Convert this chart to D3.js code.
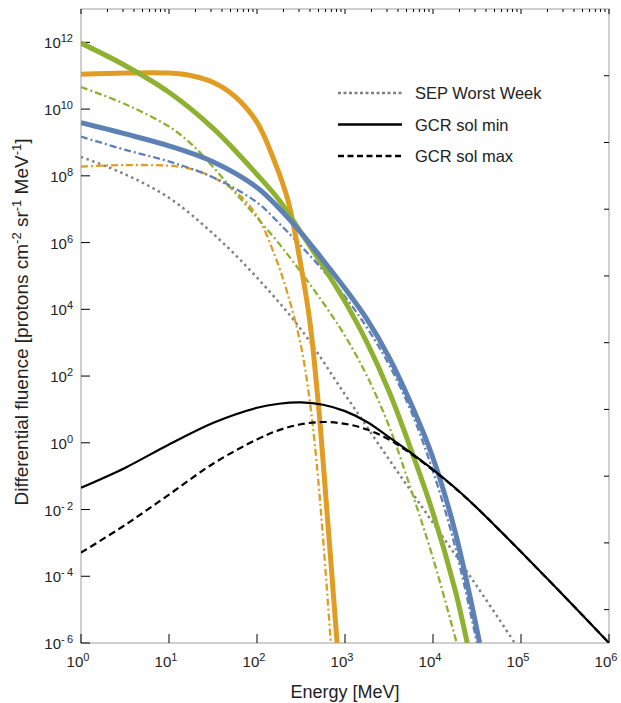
<!DOCTYPE html>
<html lang="en">
  <head>
    <meta charset="UTF-8" />
    <title>Differential fluence</title>
    <script src="https://d3js.org/d3.v7.min.js"></script>
    <style>
      body { margin: 0; background: #fff; }
      text { font-family: 'Liberation Sans', Arial, sans-serif; fill: #222; }
    </style>
  </head>
  <body>
    <svg width="621" height="703"></svg>
    <script>
      // energies in MeV, fluences in protons cm^-2 sr^-1 MeV^-1
      var orangeE = [1, 3.2, 10, 18, 32, 56, 100, 160, 224, 316, 400, 500, 630, 813]
      var orangeF = [1.1e11, 1.2e11, 1.2e11, 1.0e11, 6.3e10, 2.4e10, 4.0e9, 2.5e8, 1.9e7, 2.0e5, 4.0e3, 12.6, 6.3e-3, 1e-6]

      var orangeDashE = [1, 3.2, 10, 18, 32, 56, 100, 160, 224, 316, 400, 500, 690]
      var orangeDashF = [1.9e8, 2.1e8, 2.0e8, 1.6e8, 8.9e7, 3.5e7, 6.3e6, 4.0e5, 2.8e4, 800, 16, 0.063, 1e-6]

      var greenE = [1, 3.2, 10, 32, 100, 178, 316, 562, 1000, 1780, 3160, 5620, 1e4, 1.78e4, 2.45e4]
      var greenF = [9.5e11, 2.0e11, 3.2e10, 2.6e9, 1.1e8, 1.9e7, 2.0e6, 2.0e5, 1.7e4, 1.0e3, 35, 0.63, 7.9e-3, 4.0e-5, 1e-6]

      var greenDashE = [1, 3.2, 10, 18, 32, 56, 100, 178, 316, 562, 1000, 1780, 3160, 5620, 1e4, 1.86e4]
      var greenDashF = [4.6e10, 1.4e10, 3.0e9, 8.9e8, 1.8e8, 3.2e7, 5.6e6, 9.3e5, 1.3e5, 1.6e4, 1.6e3, 100, 3.2, 0.04, 3.5e-4, 1e-6]

      var blueE = [1, 3.2, 10, 32, 100, 178, 316, 562, 1000, 1780, 3160, 5620, 1e4, 1.78e4, 3.39e4]
      var blueF = [3.9e9, 1.8e9, 7.9e8, 2.6e8, 4.5e7, 1.07e7, 2.0e6, 3.0e5, 4.2e4, 5.0e3, 370, 15, 0.35, 2.2e-3, 1e-6]

      var blueDashE = [1, 3.2, 10, 32, 100, 178, 316, 562, 1000, 1780, 3160, 5620, 1e4, 1.78e4, 3.16e4]
      var blueDashF = [1.5e9, 6.0e8, 2.7e8, 8.9e7, 1.6e7, 3.8e6, 7.9e5, 1.5e5, 2.4e4, 2.8e3, 220, 8.9, 0.14, 7.9e-4, 1e-6]

      var sepE = [1, 3.2, 10, 32, 100, 316, 1000, 3160, 1e4, 3.16e4, 8.5e4]
      var sepF = [3.7e8, 1.1e8, 2.2e7, 1.8e6, 8.9e4, 2.5e3, 28, 0.32, 4.0e-3, 5.0e-5, 1e-6]

      var gcrE = [1, 3.2, 10, 32, 100, 178, 316, 562, 1000, 1780, 3160, 5620, 1e4, 1.78e4, 3.16e4, 5.62e4, 1e5, 3.16e5, 1e6]
      var gcrMinF = [0.045, 0.18, 0.89, 4.0, 11.2, 14.8, 16.2, 13.8, 8.9, 4.2, 1.48, 0.5, 0.158, 0.045, 0.0112, 2.5e-3, 5.4e-4, 2.4e-5, 1e-6]
      var gcrMaxF = [5.1e-4, 3.5e-3, 0.028, 0.24, 1.26, 2.4, 3.6, 4.2, 3.7, 2.5, 1.26, 0.47, 0.15, 0.044, 0.0112, 2.5e-3, 5.4e-4, 2.4e-5, 1e-6]

      var xTicks = [1, 10, 100, 1e3, 1e4, 1e5, 1e6]
      var yTicks = [1e-6, 1e-4, 1e-2, 1, 1e2, 1e4, 1e6, 1e8, 1e10, 1e12]
      var yTicksRight = [1e-5, 1e-3, 1e-1, 10, 1e3, 1e5, 1e7, 1e9, 1e11]
      var legendLabels = ['SEP Worst Week', 'GCR sol min', 'GCR sol max']

      var svg = d3.select('svg')
      var pL = 81, pR = 609, pT = 9, pB = 643

      var x = d3.scaleLog().domain([1, 1e6]).range([pL, pR])
      var y = d3.scaleLog().domain([1e-6, 1e13]).range([pB, pT])

      svg.append('clipPath').attr('id', 'plot')
        .append('rect')
        .attr('x', pL).attr('y', pT)
        .attr('width', pR - pL).attr('height', pB - pT)

      // frame
      svg.append('rect')
        .attr('x', pL).attr('y', pT)
        .attr('width', pR - pL).attr('height', pB - pT)
        .attr('fill', 'none')
        .attr('stroke', '#b5b5b5')
        .attr('stroke-width', 1.3)

      var ticks = svg.append('g').attr('stroke', '#000').attr('stroke-width', 1)

      // bottom: decades, pointing up
      ticks.selectAll('.xb').data(xTicks).enter().append('line')
        .attr('x1', d => x(d)).attr('x2', d => x(d))
        .attr('y1', pB).attr('y2', pB - 9)

      // top: decades plus minor ticks, pointing down
      var topTicks = x.ticks(60)
      ticks.selectAll('.xt').data(topTicks).enter().append('line')
        .attr('x1', d => x(d)).attr('x2', d => x(d))
        .attr('y1', pT)
        .attr('y2', d => {
          var m = Math.round(d / Math.pow(10, Math.floor(Math.log10(d) + 1e-9)))
          return m === 1 ? pT + 5 : pT + 3
        })

      ticks.selectAll('.yl').data(yTicks).enter().append('line')
        .attr('x1', pL).attr('x2', pL + 9)
        .attr('y1', d => y(d)).attr('y2', d => y(d))

      ticks.selectAll('.yr').data(yTicksRight).enter().append('line')
        .attr('x1', pR).attr('x2', pR - 5)
        .attr('y1', d => y(d)).attr('y2', d => y(d))

      function expOf(d) {
        var e = Math.round(Math.log10(d))
        return e < 0 ? '-\u2009' + (-e) : '' + e
      }

      var xl = svg.append('g').selectAll('text').data(xTicks).enter().append('text')
        .attr('x', d => x(d) - 3).attr('y', 667)
        .attr('text-anchor', 'middle')
        .style('font-size', '15px')
      xl.append('tspan').text('10')
      xl.append('tspan').attr('dy', -6).style('font-size', '11px').text(d => expOf(d))

      var yl = svg.append('g').selectAll('text').data(yTicks).enter().append('text')
        .attr('x', 73).attr('y', d => y(d) + 6)
        .attr('text-anchor', 'end')
        .style('font-size', '15px')
      yl.append('tspan').text('10')
      yl.append('tspan').attr('dy', -6).style('font-size', '11px').text(d => expOf(d))

      // axis titles
      svg.append('text')
        .attr('x', 345).attr('y', 698)
        .attr('text-anchor', 'middle')
        .style('font-size', '18px')
        .text('Energy [MeV]')

      var yt = svg.append('text')
        .attr('transform', 'translate(28,322) rotate(-90)')
        .attr('text-anchor', 'middle')
        .style('font-size', '19px')
      yt.append('tspan').text('Differential fluence [protons cm')
      yt.append('tspan').attr('dy', -7).style('font-size', '13px').text('-2')
      yt.append('tspan').attr('dy', 7).text(' sr')
      yt.append('tspan').attr('dy', -7).style('font-size', '13px').text('-1')
      yt.append('tspan').attr('dy', 7).text(' MeV')
      yt.append('tspan').attr('dy', -7).style('font-size', '13px').text('-1')
      yt.append('tspan').attr('dy', 7).text(']')

      var line = d3.line()
        .x(d => x(d[0]))
        .y(d => y(d[1]))
        .curve(d3.curveCatmullRom.alpha(0.5))

      var series = [
        { e: sepE, f: sepF, color: '#808080', width: 2.5, dash: '2.5,3.5' },
        { e: orangeDashE, f: orangeDashF, color: '#e19c24', width: 2.3, dash: '7,3,2,3' },
        { e: greenDashE, f: greenDashF, color: '#8fb131', width: 2.3, dash: '7,3,2,3' },
        { e: blueDashE, f: blueDashF, color: '#5e81b5', width: 2.3, dash: '7,3,2,3' },
        { e: orangeE, f: orangeF, color: '#e19c24', width: 5, dash: null },
        { e: greenE, f: greenF, color: '#8fb131', width: 5, dash: null },
        { e: blueE, f: blueF, color: '#5e81b5', width: 5, dash: null },
        { e: gcrE, f: gcrMaxF, color: '#000', width: 2.2, dash: '7,4' },
        { e: gcrE, f: gcrMinF, color: '#000', width: 2.2, dash: null }
      ]

      svg.append('g').attr('clip-path', 'url(#plot)')
        .selectAll('path').data(series).enter().append('path')
        .attr('d', s => line(d3.zip(s.e, s.f)))
        .attr('fill', 'none')
        .attr('stroke', s => s.color)
        .attr('stroke-width', s => s.width)
        .attr('stroke-dasharray', s => s.dash)

      // legend
      var legendStyles = [
        { color: '#808080', dash: '3,2.5', width: 2.5 },
        { color: '#000', dash: null, width: 2.5 },
        { color: '#000', dash: '6,3.5', width: 2.5 }
      ]
      var lg = svg.append('g').selectAll('g').data(legendLabels).enter().append('g')
        .attr('transform', (d, i) => `translate(0, ${93 + i * 31.5})`)
      lg.append('line')
        .attr('x1', 338).attr('x2', 402)
        .attr('stroke', (d, i) => legendStyles[i].color)
        .attr('stroke-width', (d, i) => legendStyles[i].width)
        .attr('stroke-dasharray', (d, i) => legendStyles[i].dash)
      lg.append('text')
        .attr('x', 415).attr('y', 6)
        .style('font-size', '16.5px')
        .text(d => d)
    </script>
  </body>
</html>
